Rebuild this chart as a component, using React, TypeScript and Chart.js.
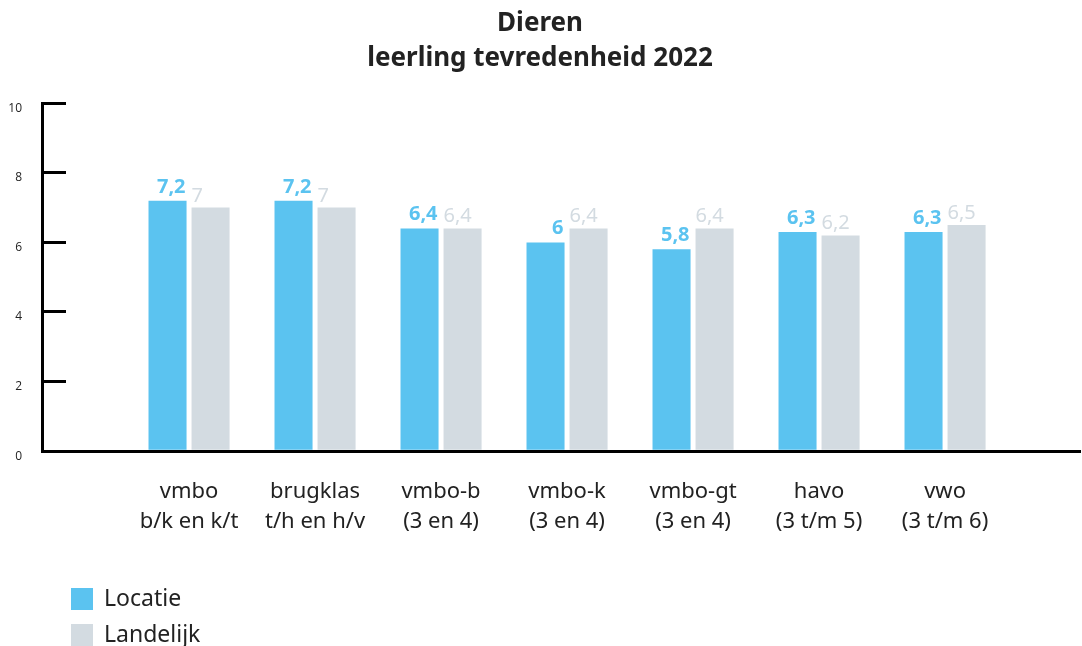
import React, { useEffect, useRef } from "react";
import { Chart, registerables } from "chart.js";

Chart.register(...registerables);

const categories: string[][] = [
  ["vmbo", "b/k en k/t"],
  ["brugklas", "t/h en h/v"],
  ["vmbo-b", "(3 en 4)"],
  ["vmbo-k", "(3 en 4)"],
  ["vmbo-gt", "(3 en 4)"],
  ["havo", "(3 t/m 5)"],
  ["vwo", "(3 t/m 6)"],
];
const locatie = [7.2, 7.2, 6.4, 6.0, 5.8, 6.3, 6.3];
const landelijk = [7.0, 7.0, 6.4, 6.4, 6.4, 6.2, 6.5];
const seriesNames = ["Locatie", "Landelijk"];
const titleLines = ["Dieren", "leerling tevredenheid 2022"];
const yTicks = [0, 2, 4, 6, 8, 10];

const BLUE = "#5BC3F0";
const GREY = "#D3DBE1";
const FONT = "'Noto Sans', sans-serif";

const fmt = (v: number) => String(v).replace(".", ",");

const valueLabels = {
  id: "valueLabels",
  afterDatasetsDraw(chart: any) {
    const ctx = chart.ctx;
    ctx.save();
    chart.data.datasets.forEach((ds: any, di: number) => {
      const meta = chart.getDatasetMeta(di);
      meta.data.forEach((el: any, i: number) => {
        const v = ds.data[i].y;
        if (di === 0) {
          ctx.font = `bold 20px ${FONT}`;
          ctx.fillStyle = BLUE;
          ctx.textAlign = "right";
          ctx.textBaseline = "alphabetic";
          ctx.fillText(fmt(v), el.x + el.width / 2 - 1, el.y - 8);
        } else {
          ctx.font = `20px ${FONT}`;
          ctx.fillStyle = GREY;
          ctx.textAlign = "left";
          ctx.textBaseline = "alphabetic";
          ctx.fillText(fmt(v), el.x - el.width / 2, el.y - 6);
        }
      });
    });
    ctx.restore();
  },
};

const customLegend = {
  id: "customLegend",
  afterDraw(chart: any) {
    const ctx = chart.ctx;
    ctx.save();
    chart.data.datasets.forEach((ds: any, di: number) => {
      const cy = chart.height - 47 + di * 36;
      ctx.fillStyle = ds.backgroundColor;
      ctx.fillRect(71, cy - 11, 22, 22);
      ctx.font = `23px ${FONT}`;
      ctx.fillStyle = "#222";
      ctx.textAlign = "left";
      ctx.textBaseline = "middle";
      ctx.fillText(ds.label, 104, cy);
    });
    ctx.restore();
  },
};

export default function App() {
  const ref = useRef<HTMLCanvasElement>(null);
  useEffect(() => {
    if (!ref.current) return;
    const chart = new Chart(ref.current, {
      type: "bar",
      data: {
        datasets: [
          {
            label: seriesNames[0],
            data: locatie.map((y, x) => ({ x, y })),
            backgroundColor: BLUE,
          },
          {
            label: seriesNames[1],
            data: landelijk.map((y, x) => ({ x, y })),
            backgroundColor: GREY,
          },
        ],
      },
      options: {
        animation: false,
        responsive: false,
        maintainAspectRatio: false,
        categoryPercentage: 0.683,
        barPercentage: 0.884,
        layout: { padding: { left: 0, right: 2, top: 0, bottom: 83 } },
        plugins: {
          legend: { display: false },
          tooltip: { enabled: false },
          title: {
            display: true,
            text: titleLines,
            color: "#222",
            font: { family: FONT, size: 26, weight: "bold", lineHeight: 1.35 },
            padding: { top: 6, bottom: 27 },
          },
        },
        scales: {
          x: {
            type: "linear",
            offset: false,
            min: -1.167,
            max: 7.071,
            grid: { display: false, drawTicks: false, offset: false },
            border: { display: true, color: "#000", width: 3 },
            afterBuildTicks: (axis: any) => {
              axis.ticks = categories.map((_, i) => ({ value: i }));
            },
            ticks: {
              autoSkip: false,
              maxRotation: 0,
              padding: 26,
              color: "#222",
              font: { family: FONT, size: 22, lineHeight: 1.36 },
              callback: (v: any) => categories[v] ?? "",
            },
          },
          y: {
            min: 0,
            max: 10,
            afterBuildTicks: (axis: any) => {
              axis.ticks = yTicks.map((value) => ({ value }));
            },
            afterFit: (axis: any) => {
              axis.width = 42;
            },
            grid: {
              display: true,
              drawOnChartArea: false,
              drawTicks: true,
              tickLength: -24,
              color: "#000",
              lineWidth: 3,
            },
            border: { display: true, color: "#000", width: 3 },
            ticks: {
              padding: 44,
              labelOffset: 5,
              color: "#222",
              font: { family: "'Open Sans', sans-serif", size: 12 },
            },
          },
        },
      },
      plugins: [valueLabels, customLegend],
    });
    return () => chart.destroy();
  }, []);
  return (
    <div style={{ position: "fixed", left: 0, top: 0, width: 1082, height: 646, background: "#fff" }}>
      <canvas ref={ref} width={1082} height={646} />
    </div>
  );
}
